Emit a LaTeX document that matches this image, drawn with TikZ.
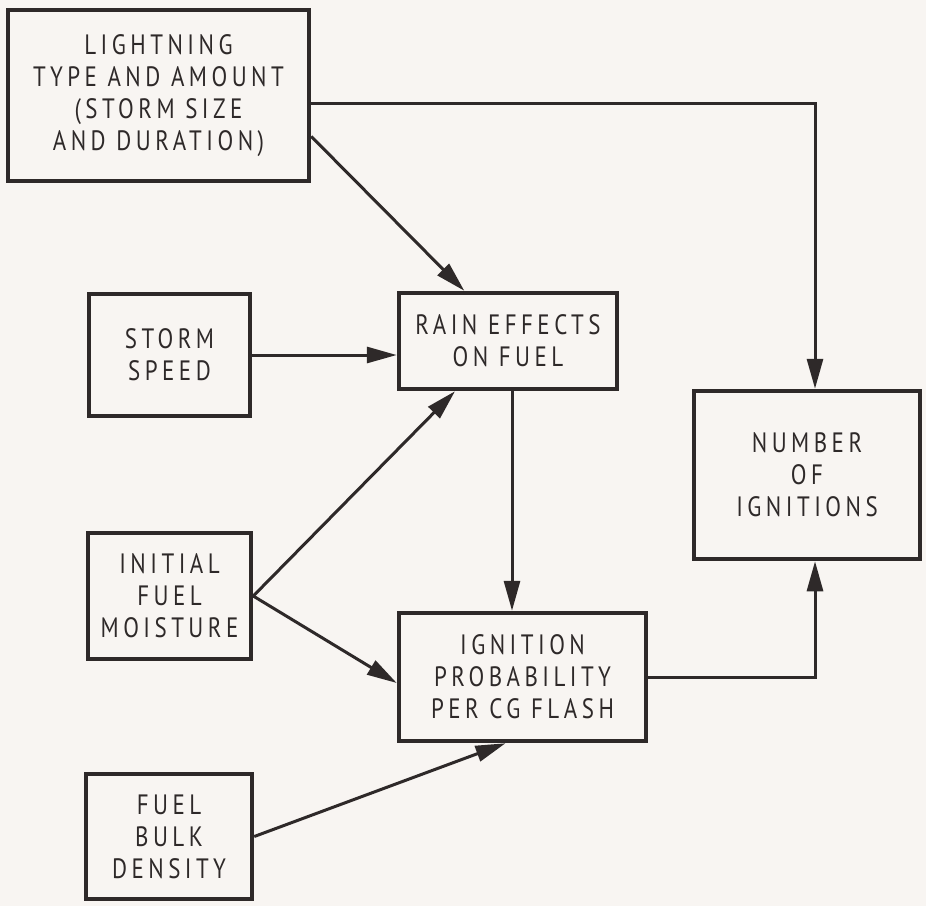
\documentclass[tikz,border=0pt]{standalone}
\usepackage{fontspec}
\setmainfont{PT Sans}[LetterSpace=16, FakeStretch=0.82]
\usetikzlibrary{arrows.meta}
\definecolor{ink}{HTML}{2E2929}
\definecolor{paper}{HTML}{F8F5F2}
\tikzset{box/.style = {draw=ink, line width=4.5pt, rectangle, align=center, text=ink, font=\fontsize{28}{32}\selectfont}}
\tikzset{arrow/.style = {-{Triangle[length=30pt,width=16pt]}, color=ink, line width=3pt}}

\begin{document}
\begin{tikzpicture}[x=1pt, y=-1pt]
		\fill[paper] (0,0) rectangle (926,906);
		\useasboundingbox (0,0) rectangle (926,906);
		\node[box, minimum width=301pt, minimum height=171pt] (lightning) at (158.5,95.5) {LIGHTNING\\TYPE AND AMOUNT\\(STORM SIZE\\AND DURATION)};
		\node[box, minimum width=161pt, minimum height=122pt] (storm) at (169.5,355) {STORM\\SPEED};
		\node[box, minimum width=218pt, minimum height=96pt] (rain) at (508,341) {RAIN EFFECTS\\ON FUEL};
		\node[box, minimum width=163pt, minimum height=126pt] (initial) at (169.5,596) {INITIAL\\FUEL\\MOISTURE};
		\node[box, minimum width=247pt, minimum height=128pt] (ignition) at (522.5,677) {IGNITION\\PROBABILITY\\PER CG FLASH};
		\node[box, minimum width=166pt, minimum height=125pt] (bulk) at (169,836.5) {FUEL\\BULK\\DENSITY};
		\node[box, minimum width=226pt, minimum height=168pt] (number) at (807,475) {NUMBER\\OF\\IGNITIONS};
		\draw[arrow] ([yshift=-7.5pt]lightning.east) -| ([xshift=8pt]number.north);
		\path[arrow] (lightning.-15) edge (rain.131);
		\path[arrow] (storm.east) edge (storm.east -| rain.west);
		\path[arrow] (initial.east) edge ([xshift=-53pt]rain.south);
		\path[arrow] (initial.east) edge ([yshift=-6pt]ignition.west);
		\path[arrow] ([xshift=4pt]rain.south) edge ([xshift=4pt]rain.south |- ignition.north);
		\path[arrow] (bulk.east) edge ([xshift=-17pt]ignition.south);
		\draw[arrow] (ignition.east) -| ([xshift=8pt]number.south);
	\end{tikzpicture}
\end{document}
